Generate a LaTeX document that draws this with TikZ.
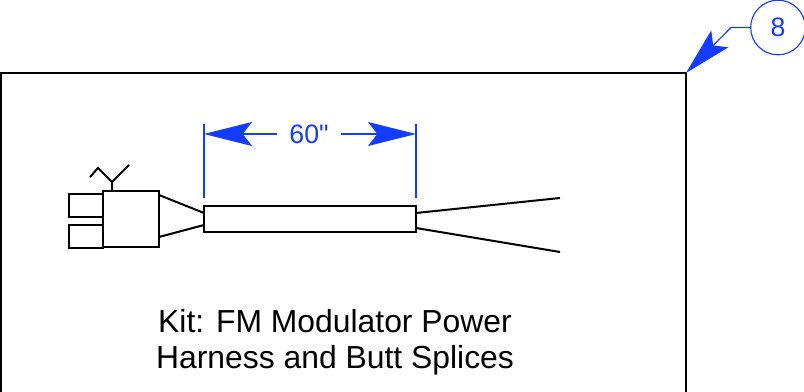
\documentclass[tikz,border=0pt]{standalone}
\usepackage{fontspec}
\setmainfont{Liberation Sans}
\newfontfamily\dimfont{Liberation Sans}
\usetikzlibrary{arrows.meta}
\definecolor{dimblue}{RGB}{20,60,255}
\tikzset{
	part/.style={draw, line width=1.5pt, minimum width=#1*0.75pt, inner sep=0, outer sep=0},
	wire/.style={line width=1.5pt},
	dimline/.style={dimblue, line width=0.85pt},
	dimlabel/.style={text=dimblue, font=\dimfont\fontsize{20}{22}\selectfont},
	bighead/.style={{Stealth[length=36pt,width=18pt,inset=7pt]}-},
}
\begin{document}
\begin{tikzpicture}[x=0.75pt,y=-0.75pt]
\useasboundingbox (0,0) rectangle (804,392);
\coordinate (corner) at (686,73);
\draw[wire] (1,392) -- (1,73) -- (corner) -- (686,392);

\node[part=56, minimum height=42pt] (body) at (130.5,219.5) {};
\node[part=34, minimum height=17pt] (plugtop) at (86,205.5) {};
\node[part=34, minimum height=17pt] (plugbot) at (86,236.5) {};
\node[part=212, minimum height=20pt] (sleeve) at (310,219) {};

% antenna on the body
\coordinate (fork) at (112,182);
\draw[wire] (112,191) -- (fork) -- (129,165);
\draw[wire] (fork) -- (98,168) -- (90,177);

% wires either side of the sleeve
\draw[wire] (159,195) -- (204,213);
\draw[wire] (159,237) -- (204,225);
\coordinate (endtop) at (560,198);
\coordinate (endbot) at (560,252);
\draw[wire] (416,213) -- (endtop);
\draw[wire] (416,228) -- (endbot);

% dimension
\foreach \i in {north west,north east} {
	\draw[dimline] (sleeve.\i) ++(0,-8) -- ++(0,-74);
}
\node[dimlabel, inner sep=9pt] (dimtext) at (309,134) {60"};
\draw[dimline, bighead] (204,134) -- (dimtext.west);
\draw[dimline, bighead] (416,134) -- (dimtext.east);

% balloon
\node[draw=dimblue, line width=0.85pt, circle, minimum size=41pt, inner sep=0, dimlabel] (balloon) at (778,27.5) {8};
\coordinate (knee) at (731,27.5);
\draw[dimline, bighead] (corner) -- (knee) -- (balloon.west);

\node[align=center, font=\fontsize{23.9}{27}\selectfont] (kit) at (335,342) {Kit: FM Modulator Power\\Harness and Butt Splices};
\end{tikzpicture}
\end{document}
